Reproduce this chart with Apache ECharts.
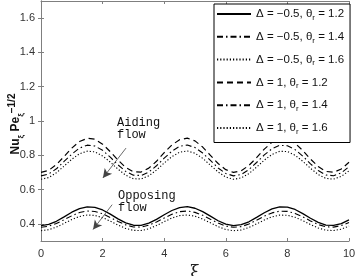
<!DOCTYPE html>
<html><head><meta charset="utf-8">
<script src="https://cdn.jsdelivr.net/npm/echarts@6/dist/echarts.min.js"></script>
<style>html,body{margin:0;padding:0;background:#fff}#c{width:355px;height:276px}</style>
</head><body><div id="c"></div>
<script>
// xi sample positions
var xi = [0,0.25,0.5,0.75,1,1.25,1.5,1.75,2,2.25,2.5,2.75,3,3.25,3.5,3.75,4,4.25,4.5,4.75,5,5.25,5.5,5.75,6,6.25,6.5,6.75,7,7.25,7.5,7.75,8,8.25,8.5,8.75,9,9.25,9.5,9.75,10];
// Opposing flow (Delta = -0.5)
var opp12 = [.390,.397,.415,.441,.468,.489,.499,.496,.481,.457,.429,.406,.392,.391,.404,.426,.453,.478,.495,.500,.491,.471,.445,.418,.399,.390,.395,.412,.438,.465,.487,.499,.498,.484,.460,.433,.409,.393,.391,.401,.423];
var opp14 = [.380,.386,.402,.424,.447,.466,.475,.472,.459,.437,.414,.394,.382,.381,.392,.411,.434,.456,.471,.475,.467,.450,.427,.405,.387,.380,.384,.399,.421,.445,.464,.474,.473,.461,.441,.417,.396,.383,.381,.390,.408];
var opp16 = [.360,.366,.381,.403,.425,.443,.452,.449,.436,.416,.393,.373,.362,.361,.371,.390,.413,.434,.448,.452,.445,.428,.406,.384,.367,.360,.364,.379,.400,.422,.441,.451,.450,.438,.419,.396,.376,.363,.361,.369,.387];
// Aiding flow (Delta = 1)
var aid12 = [.700,.712,.746,.793,.842,.880,.899,.894,.865,.821,.772,.729,.704,.702,.725,.765,.815,.860,.891,.900,.884,.848,.800,.752,.716,.700,.709,.741,.786,.836,.876,.898,.896,.870,.828,.778,.734,.706,.701,.720,.759];
var aid14 = [.680,.691,.721,.764,.807,.842,.859,.854,.829,.789,.744,.706,.684,.682,.702,.739,.783,.824,.852,.860,.845,.813,.770,.726,.694,.680,.688,.717,.758,.802,.838,.858,.856,.833,.795,.750,.711,.685,.681,.698,.733];
var aid16 = [.660,.670,.698,.737,.777,.809,.824,.820,.796,.760,.719,.684,.663,.662,.680,.714,.755,.792,.818,.825,.812,.782,.742,.703,.673,.660,.668,.693,.731,.772,.805,.823,.822,.800,.765,.724,.688,.665,.661,.677,.709];
var names = ['Δ = −0.5, θr = 1.2','Δ = −0.5, θr = 1.4','Δ = −0.5, θr = 1.6','Δ = 1, θr = 1.2','Δ = 1, θr = 1.4','Δ = 1, θr = 1.6'];
var yTicks = [0.4,0.6,0.8,1,1.2,1.4,1.6];
var xTicks = [0,2,4,6,8,10];
// annotation arrows [start, end] in data units
var arrowAiding = [[2.76,0.842],[2.01,0.668]];
var arrowOpposing = [[2.31,0.512],[1.69,0.367]];

function pairs(y){ return xi.map(function(x,i){return [x,y[i]];}); }
var styles = [
  {type:'solid', width:1.3},
  {type:[6,3,1.5,3], width:1.1},
  {type:[1.2,2], width:1.1},
  {type:[6,4], width:1.2},
  {type:[6,3,1.5,3], width:1.1},
  {type:[1.2,2], width:1.1}
];
var datas = [opp12,opp14,opp16,aid12,aid14,aid16];
var series = datas.map(function(d,i){
  return {name:names[i], type:'line', data:pairs(d), symbol:'none', smooth:false,
    lineStyle:{color:'#000', width:styles[i].width, type:styles[i].type}, itemStyle:{color:'#000'}, z:3};
});
series[0].markLine = {silent:true, symbol:['none','arrow'], symbolSize:[7,9], label:{show:false},
  lineStyle:{color:'#444', width:0.8, type:'solid'},
  data:[[{coord:arrowAiding[0]},{coord:arrowAiding[1]}],[{coord:arrowOpposing[0]},{coord:arrowOpposing[1]}]]};

var axisCol = '#7f7f7f';
var chart = echarts.init(document.getElementById('c'), null, {renderer:'canvas'});
chart.setOption({
  animation:false,
  backgroundColor:'#fff',
  grid:{left:41, right:6, top:1, bottom:35, containLabel:false, outerBoundsMode:'none'},
  xAxis:[{type:'value', min:0, max:10, interval:2, position:'bottom',
    axisLine:{lineStyle:{color:axisCol}}, axisTick:{inside:true, length:3, lineStyle:{color:axisCol}},
    axisLabel:{color:'#333', fontSize:11, fontFamily:'Liberation Sans', margin:7},
    splitLine:{show:false}, name:'ξ', nameLocation:'middle', nameGap:19,
    nameTextStyle:{fontSize:17, fontFamily:'DejaVu Serif', color:'#222'}},
   {type:'value', min:0, max:10, interval:2, position:'top',
    axisLine:{lineStyle:{color:axisCol}}, axisTick:{inside:true, length:3, lineStyle:{color:axisCol}},
    axisLabel:{show:false}, splitLine:{show:false}}],
  yAxis:[{type:'value', min:0.3, max:1.7, position:'left',
    axisLine:{show:true, lineStyle:{color:axisCol}},
    axisTick:{inside:true, length:3, customValues:yTicks, lineStyle:{color:axisCol}},
    axisLabel:{color:'#333', fontSize:11, fontFamily:'Liberation Sans', margin:6, customValues:yTicks},
    splitLine:{show:false}},
   {type:'value', min:0.3, max:1.7, position:'right',
    axisLine:{show:true, lineStyle:{color:axisCol}},
    axisTick:{inside:true, length:3, customValues:yTicks, lineStyle:{color:axisCol}},
    axisLabel:{show:false}, splitLine:{show:false}}],
  legend:{orient:'vertical', left:214, top:4, padding:[4,6,7,2], itemWidth:34, itemHeight:14, itemGap:9.3,
    backgroundColor:'#fff', borderColor:'#000', borderWidth:1, borderRadius:0,
    data:names, selectedMode:false,
    itemStyle:{opacity:0},
    formatter:function(n){ return n.replace('θr','θ{r|r}'); },
    textStyle:{fontSize:11.5, fontFamily:'Liberation Sans', color:'#111', padding:[0,0,0,0],
      rich:{r:{fontSize:8, fontFamily:'Liberation Sans', color:'#111', verticalAlign:'bottom', padding:[7,0,0,0]}}}},
  graphic:[
    {type:'text', x:16, y:124, rotation:Math.PI/2, style:{
      text:'{b|Nu}{s|ξ}{b| Pe}{s|ξ}{p|−1/2}', align:'center', verticalAlign:'middle',
      rich:{
        b:{fontSize:12, fontWeight:'bold', fontFamily:'Liberation Sans', fill:'#111', lineHeight:18, verticalAlign:'middle'},
        s:{fontSize:8, fontWeight:'bold', fontFamily:'Liberation Sans', fill:'#111', lineHeight:18, verticalAlign:'bottom'},
        p:{fontSize:10, fontWeight:'bold', fontFamily:'Liberation Sans', fill:'#111', lineHeight:18, verticalAlign:'top'}
      }}},
    {type:'text', left:117, top:117, style:{text:'Aiding\nflow', font:'12px "Liberation Mono"', fill:'#111', lineHeight:12}},
    {type:'text', left:118, top:190, style:{text:'Opposing\nflow', font:'12px "Liberation Mono"', fill:'#111', lineHeight:11.5}}
  ],
  series:series
});
</script></body></html>
